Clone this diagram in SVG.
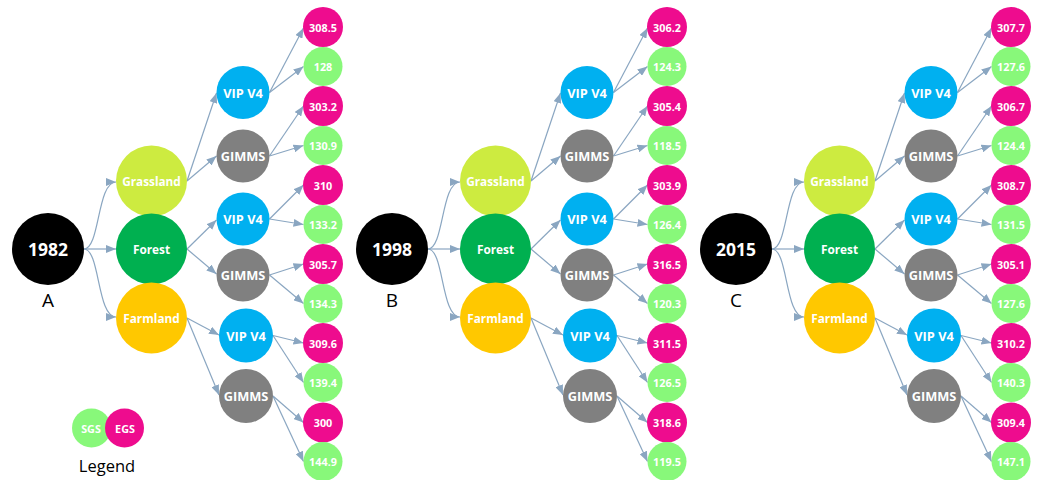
<svg xmlns="http://www.w3.org/2000/svg" width="1040" height="480" viewBox="0 0 1040 480">
<style>
text{font-family:"Open Sans","Noto Sans","Liberation Sans",sans-serif;text-anchor:middle;dominant-baseline:central}
.w{fill:#fff;font-weight:bold}
.root{fill:#000}
.grass{fill:#CDEB40}
.forest{fill:#00B050}
.farm{fill:#FFC800}
.vip{fill:#00B0F0}
.gim{fill:#808080}
.egs{fill:#EE0C8E}
.sgs{fill:#88F87A}
.t-root{font-size:17.5px}
.t-land{font-size:11.8px}
.t-mid{font-size:12.8px}
.t-leaf{font-size:10.8px}
.lbl{font-size:19px;fill:#000}
.edge{fill:none;stroke:#8AA6C1;stroke-width:1.2;marker-end:url(#arr)}
</style>
<defs>
<marker id="arr" markerUnits="userSpaceOnUse" markerWidth="10" markerHeight="8" viewBox="0 0 10 8" refX="10" refY="4" orient="auto">
<path d="M0,0 L10,4 L0,8 Z" fill="#8AA6C1"/>
</marker>
<g id="tree">
<g class="connectors">
<path class="edge" d="M84,249 C100,249 97,182 116,182"/>
<path class="edge" d="M84,249 L116,249"/>
<path class="edge" d="M84,249 C100,249 97,317 116,317"/>
<path class="edge" d="M187,181 L216.5,93"/>
<path class="edge" d="M187,181 L216.5,156"/>
<path class="edge" d="M187,249 L216.5,220"/>
<path class="edge" d="M187,249 L216.5,274"/>
<path class="edge" d="M187,318 L219,335"/>
<path class="edge" d="M187,318 L219,395"/>
<path class="edge" d="M269.5,92.5 L303.5,28"/>
<path class="edge" d="M269.5,92.5 L303.5,66.5"/>
<path class="edge" d="M269.5,156 L303.5,106"/>
<path class="edge" d="M269.5,156 L303.5,145.5"/>
<path class="edge" d="M269.5,219 L303.5,185"/>
<path class="edge" d="M269.5,219 L303.5,224.5"/>
<path class="edge" d="M269.5,275 L303.5,264"/>
<path class="edge" d="M269.5,275 L303.5,303.5"/>
<path class="edge" d="M273,335.5 L303.5,343"/>
<path class="edge" d="M273,335.5 L303.5,382.5"/>
<path class="edge" d="M273,396 L303.5,422.5"/>
<path class="edge" d="M273,396 L303.5,461.5"/>
</g>
<g class="n-grass"><circle class="grass" cx="151.5" cy="181" r="35.5"/><text class="w t-land" x="151.5" y="181">Grassland</text></g>
<g class="n-forest"><circle class="forest" cx="151.5" cy="249" r="35.5"/><text class="w t-land" x="151.5" y="249">Forest</text></g>
<g class="n-farm"><circle class="farm" cx="151.5" cy="318" r="35.5"/><text class="w t-land" x="151.5" y="318">Farmland</text></g>
<g class="n-vipG"><circle class="vip" cx="243" cy="92.5" r="26.5"/><text class="w t-mid" x="243" y="92.5">VIP V4</text></g>
<g class="n-gimG"><circle class="gim" cx="243" cy="156" r="26.5"/><text class="w t-mid" x="243" y="156">GIMMS</text></g>
<g class="n-vipF"><circle class="vip" cx="243" cy="219" r="26.5"/><text class="w t-mid" x="243" y="219">VIP V4</text></g>
<g class="n-gimF"><circle class="gim" cx="243" cy="275" r="26.5"/><text class="w t-mid" x="243" y="275">GIMMS</text></g>
<g class="n-vipM"><circle class="vip" cx="246" cy="335.5" r="27"/><text class="w t-mid" x="246" y="335.5">VIP V4</text></g>
<g class="n-gimM"><circle class="gim" cx="246" cy="396" r="27"/><text class="w t-mid" x="246" y="396">GIMMS</text></g>
<circle class="egs" cx="323" cy="27" r="20"/>
<circle class="sgs" cx="323" cy="66.5" r="19.5"/>
<circle class="egs" cx="323" cy="106" r="20"/>
<circle class="sgs" cx="323" cy="145.5" r="19.5"/>
<circle class="egs" cx="323" cy="185" r="20"/>
<circle class="sgs" cx="323" cy="224.5" r="19.5"/>
<circle class="egs" cx="323" cy="264" r="20"/>
<circle class="sgs" cx="323" cy="303.5" r="19.5"/>
<circle class="egs" cx="323" cy="343" r="20"/>
<circle class="sgs" cx="323" cy="382.5" r="19.5"/>
<circle class="egs" cx="323" cy="422.5" r="20"/>
<circle class="sgs" cx="323" cy="461.5" r="19.5"/>
</g>
</defs>

<g id="panelA">
<use href="#tree"/>
<g id="A-root"><circle class="root" cx="48" cy="249" r="36"/><text class="w t-root" x="48" y="249">1982</text></g>
<text class="lbl" x="48" y="300">A</text>
<g id="A-leaves" class="w t-leaf">
<text x="323" y="27">308.5</text><text x="323" y="66.5">128</text>
<text x="323" y="106">303.2</text><text x="323" y="145.5">130.9</text>
<text x="323" y="185">310</text><text x="323" y="224.5">133.2</text>
<text x="323" y="264">305.7</text><text x="323" y="303.5">134.3</text>
<text x="323" y="343">309.6</text><text x="323" y="382.5">139.4</text>
<text x="323" y="422.5">300</text><text x="323" y="461.5">144.9</text>
</g>
</g>

<g id="panelB" transform="translate(344,0)">
<use href="#tree"/>
<g id="B-root"><circle class="root" cx="48" cy="249" r="36"/><text class="w t-root" x="48" y="249">1998</text></g>
<text class="lbl" x="48" y="300">B</text>
<g id="B-leaves" class="w t-leaf">
<text x="323" y="27">306.2</text><text x="323" y="66.5">124.3</text>
<text x="323" y="106">305.4</text><text x="323" y="145.5">118.5</text>
<text x="323" y="185">303.9</text><text x="323" y="224.5">126.4</text>
<text x="323" y="264">316.5</text><text x="323" y="303.5">120.3</text>
<text x="323" y="343">311.5</text><text x="323" y="382.5">126.5</text>
<text x="323" y="422.5">318.6</text><text x="323" y="461.5">119.5</text>
</g>
</g>

<g id="panelC" transform="translate(688,0)">
<use href="#tree"/>
<g id="C-root"><circle class="root" cx="48" cy="249" r="36"/><text class="w t-root" x="48" y="249">2015</text></g>
<text class="lbl" x="48" y="300">C</text>
<g id="C-leaves" class="w t-leaf">
<text x="323" y="27">307.7</text><text x="323" y="66.5">127.6</text>
<text x="323" y="106">306.7</text><text x="323" y="145.5">124.4</text>
<text x="323" y="185">308.7</text><text x="323" y="224.5">131.5</text>
<text x="323" y="264">305.1</text><text x="323" y="303.5">127.6</text>
<text x="323" y="343">310.2</text><text x="323" y="382.5">140.3</text>
<text x="323" y="422.5">309.4</text><text x="323" y="461.5">147.1</text>
</g>
</g>

<g id="legend">
<circle class="sgs" cx="91.5" cy="428" r="19.5"/>
<circle class="egs" cx="124.5" cy="428" r="19.5"/>
<text class="w t-leaf" x="91" y="428">SGS</text>
<text class="w t-leaf" x="125" y="428">EGS</text>
<text class="lbl" x="107" y="465" style="font-size:16.5px">Legend</text>
</g>
</svg>
